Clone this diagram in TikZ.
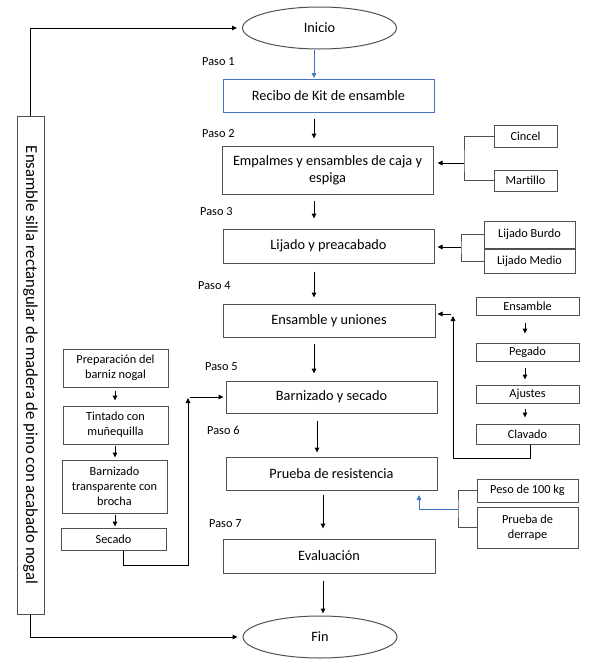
\documentclass[tikz,border=0pt]{standalone}
\usepackage{fontspec}
\setmainfont{Carlito}
\usetikzlibrary{arrows.meta,shapes.geometric}
\definecolor{bgray}{HTML}{505050}
\definecolor{mblue}{HTML}{4472C4}
\begin{document}
\begin{tikzpicture}[x=1pt,y=-1pt,
  box/.style={draw=bgray,line width=1pt,inner sep=0pt,align=center,font=\fontsize{14.3}{17}\selectfont},
  sbox/.style={draw=bgray,line width=1pt,inner sep=0pt,align=center,font=\fontsize{12.3}{15}\selectfont},
  oval/.style={ellipse,draw=bgray,line width=1pt,inner sep=0pt,minimum width=154pt,minimum height=42pt,font=\fontsize{14.3}{17}\selectfont},
  paso/.style={anchor=west,inner sep=0pt,font=\fontsize{12.3}{14}\selectfont},
  arr/.style={line width=1pt,-{Triangle[length=5pt,width=4.5pt]}},
  ln/.style={draw=bgray,line width=1pt},
  barr/.style={draw=mblue,line width=1pt,-{Triangle[length=5pt,width=4.5pt]},mblue}
]
\useasboundingbox (0,0) rectangle (589,667);
% main column
\node[oval] (ini) at (319.5,28) {Inicio};
\node[box,draw=mblue,minimum width=211pt,minimum height=33pt] (rec) at (328.5,95.5) {Recibo de Kit de ensamble};
\node[box,minimum width=211pt,minimum height=48pt] (emp) at (327.5,170) {Empalmes y ensambles de caja y\\espiga};
\node[box,minimum width=211pt,minimum height=34pt] (lij) at (328.5,246) {Lijado y preacabado};
\node[box,minimum width=212pt,minimum height=33pt] (ens) at (329,320.5) {Ensamble y uniones};
\node[box,minimum width=211pt,minimum height=32pt] (bar) at (331.5,397) {Barnizado y secado};
\node[box,minimum width=211pt,minimum height=33pt] (pru) at (331.5,473.5) {Prueba de resistencia};
\node[box,minimum width=212pt,minimum height=34pt] (eva) at (329,556) {Evaluación};
\node[oval] (fin) at (320,637) {Fin};
% paso labels
\node[paso] (l1) at (202,62) {Paso 1};
\node[paso] (l2) at (202,134) {Paso 2};
\node[paso] (l3) at (200,212) {Paso 3};
\node[paso] (l4) at (198,286) {Paso 4};
\node[paso] (l5) at (205,367) {Paso 5};
\node[paso] (l6) at (207,430) {Paso 6};
\node[paso] (l7) at (209,524) {Paso 7};
% right side
\node[sbox,minimum width=63pt,minimum height=22pt] (cin) at (525.5,136) {Cincel};
\node[sbox,minimum width=63pt,minimum height=21pt] (mar) at (525.5,180.5) {Martillo};
\node[sbox,minimum width=91pt,minimum height=27pt] (lb) at (529.5,234.5) {Lijado Burdo};
\node[sbox,minimum width=91pt,minimum height=24pt] (lm) at (529.5,261) {Lijado Medio};
\node[sbox,minimum width=103pt,minimum height=18pt] (e1) at (527.5,306) {Ensamble};
\node[sbox,minimum width=103pt,minimum height=18pt] (e2) at (527.5,352) {Pegado};
\node[sbox,minimum width=103pt,minimum height=18pt] (e3) at (527.5,394) {Ajustes};
\node[sbox,minimum width=103pt,minimum height=20pt] (e4) at (527.5,434) {Clavado};
\node[sbox,minimum width=101pt,minimum height=23pt] (pe) at (527.5,490.5) {Peso de 100 kg};
\node[sbox,minimum width=101pt,minimum height=41pt] (pd) at (527.5,527.5) {Prueba de\\derrape};
% left column
\node[sbox,minimum width=105pt,minimum height=38pt] (p1) at (115.5,368) {Preparación del\\barniz nogal};
\node[sbox,minimum width=105pt,minimum height=38pt] (p2) at (115.5,425) {Tintado con\\muñequilla};
\node[sbox,minimum width=105pt,minimum height=53pt] (p3) at (114.5,486.5) {Barnizado\\transparente con\\brocha};
\node[sbox,minimum width=105pt,minimum height=22pt] (p4) at (113.5,539) {Secado};
% side box
\node[draw=bgray,line width=1pt,inner sep=0pt,rotate=-90,minimum width=498pt,minimum height=27pt,font=\fontsize{16.7}{19}\selectfont] (side) at (30.5,365) {Ensamble silla rectangular de madera de pino con acabado nogal};
% coordinates
\coordinate (x314) at (314,0);
\coordinate (x317) at (317,0);
\coordinate (x323) at (323,0);
\coordinate (x525) at (525,0);
\coordinate (x115) at (115,0);
\coordinate (c1) at (464,163);
\coordinate (c2) at (461,247);
\coordinate (c3) at (458,509);
\coordinate (bx) at (419,495);
\coordinate (x530) at (530,0);
\coordinate (fbb) at (453,458);
\coordinate (fbt) at (453,316);
\coordinate (fba) at (451,314);
\coordinate (x123) at (123,0);
\coordinate (scb) at (188,565);
\coordinate (sct) at (188,398);
\coordinate (sca) at (190,397);
% main arrows
\draw[barr,shorten >=0.5pt] (ini.south -| x314) -- (rec.north -| x314);
\draw[arr,shorten <=6pt,shorten >=7pt] (rec.south -| x314) -- (emp.north -| x314);
\draw[arr,shorten <=6pt,shorten >=10pt] (emp.south -| x314) -- (lij.north -| x314);
\draw[arr,shorten <=8pt,shorten >=6pt] (lij.south -| x314) -- (ens.north -| x314);
\draw[arr,shorten <=6pt,shorten >=7pt] (ens.south -| x314) -- (bar.north -| x314);
\draw[arr,shorten <=7pt,shorten >=4pt] (bar.south -| x317) -- (pru.north -| x317);
\draw[arr,shorten <=4pt,shorten >=10pt] (pru.south -| x323) -- (eva.north -| x323);
\draw[arr,shorten <=7pt,shorten >=2pt] (eva.south -| x323) -- (fin.north -| x323);
% brackets
\draw[ln] (cin.west) -| (c1) |- (mar.west);
\draw[arr,shorten >=4pt] (c1) -- (c1 -| emp.east);
\draw[ln] (lb.west) -| (c2) |- (lm.west);
\draw[arr,shorten >=3pt] (c2) -- (c2 -| lij.east);
\draw[ln] (pe.west) -| (c3) |- (pd.west);
\draw[barr] (c3) -| (bx);
% ensamble chain
\draw[arr,shorten <=7pt,shorten >=9pt] (e1.south -| x525) -- (e2.north -| x525);
\draw[arr,shorten <=6pt,shorten >=5pt] (e2.south -| x525) -- (e3.north -| x525);
\draw[arr,shorten <=5pt,shorten >=6pt] (e3.south -| x525) -- (e4.north -| x525);
\draw[arr] (e4.south -| x530) |- (fbb) -- (fbt);
\draw[arr,shorten >=2pt] (fba) -- (fba -| ens.east);
% left chain
\draw[arr,shorten <=3pt,shorten >=5pt] (p1.south -| x115) -- (p2.north -| x115);
\draw[arr,shorten <=1pt,shorten >=2pt] (p2.south -| x115) -- (p3.north -| x115);
\draw[arr,shorten <=1pt,shorten >=1pt] (p3.south -| x115) -- (p4.north -| x115);
\draw[arr] (p4.south -| x123) |- (scb) -- (sct);
\draw[arr,shorten >=2pt] (sca) -- (sca -| bar.west);
% side arrows
\draw[arr,shorten >=5pt] (side.west) |- (ini.west);
\draw[arr,shorten >=5pt] (side.east) |- (fin.west);
\end{tikzpicture}
\end{document}
